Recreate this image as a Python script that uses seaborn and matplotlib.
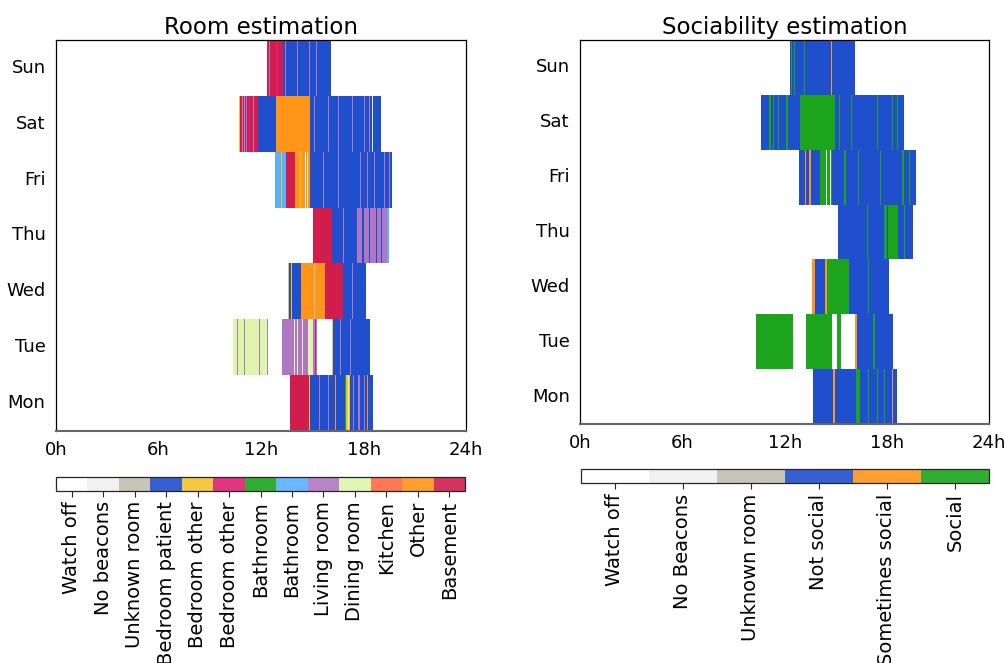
import numpy as np
import matplotlib
matplotlib.use("Agg")
import matplotlib.pyplot as plt
from matplotlib.colors import ListedColormap, Normalize
from matplotlib.cm import ScalarMappable
import seaborn as sns

days = ["Sun", "Sat", "Fri", "Thu", "Wed", "Tue", "Mon"]
hour_ticks = [0, 6, 12, 18, 24]
hour_labels = ["0h", "6h", "12h", "18h", "24h"]

room_labels = ["Watch off", "No beacons", "Unknown room", "Bedroom patient",
               "Bedroom other", "Bedroom other", "Bathroom", "Bathroom",
               "Living room", "Dining room", "Kitchen", "Other", "Basement"]
room_colors = ["#ffffff", "#f0f0f0", "#c2beb0", "#1f4fcc", "#f4c22d", "#dd1f71",
               "#1ca41d", "#5ab0ff", "#af77c2", "#ddf6ac", "#ff6842", "#ff9519",
               "#d11d4e"]

social_labels = ["Watch off", "No Beacons", "Unknown room", "Not social",
                 "Sometimes social", "Social"]
social_colors = ["#ffffff", "#f0f0f0", "#c2beb0", "#1f4fcc", "#ff9519", "#1ca41d"]

# runs per day: (start hour, end hour, category) ; later runs overwrite earlier ones
room_runs = {
    "Sun": [(12.33, 13.30, 12), (13.30, 16.08, 3), (12.45, 12.52, 8), (12.90, 12.97, 5),
            (13.40, 13.47, 8), (14.10, 14.15, 8), (14.80, 14.87, 8), (15.20, 15.27, 8)],
    "Sat": [(10.71, 11.85, 12), (11.85, 12.88, 3), (12.88, 14.87, 11), (14.87, 19.00, 3),
            (10.71, 10.76, 4), (10.90, 10.97, 8), (11.00, 11.06, 7), (11.12, 11.19, 8),
            (11.30, 11.37, 5), (11.50, 11.57, 8), (15.10, 15.17, 8), (15.90, 15.97, 8),
            (16.50, 16.57, 8), (17.30, 17.37, 8), (18.00, 18.07, 8), (18.30, 18.37, 8),
            (18.50, 18.57, 9)],
    "Fri": [(12.82, 13.47, 7), (13.47, 14.00, 12), (14.00, 14.87, 11), (14.87, 19.65, 3),
            (13.15, 13.21, 4), (14.30, 14.36, 4), (14.55, 14.63, 0), (14.70, 14.77, 9),
            (15.60, 15.67, 8), (16.50, 16.57, 8), (17.80, 17.87, 8), (18.20, 18.27, 8),
            (18.60, 18.67, 8), (19.20, 19.27, 8), (19.50, 19.57, 8)],
    "Thu": [(15.07, 16.14, 12), (16.14, 17.60, 3), (17.60, 19.36, 8), (19.36, 19.50, 7),
            (16.80, 16.86, 8), (17.90, 18.00, 3), (18.30, 18.40, 3), (18.70, 18.80, 3),
            (19.00, 19.10, 3)],
    "Wed": [(13.56, 13.80, 4), (13.80, 14.34, 3), (14.34, 15.75, 11), (15.75, 16.78, 12),
            (16.78, 18.13, 3), (13.62, 13.67, 3), (13.72, 13.77, 3), (15.10, 15.15, 2),
            (17.30, 17.36, 8)],
    "Tue": [(10.34, 12.43, 9), (13.21, 14.77, 8), (14.77, 15.03, 9), (15.03, 15.30, 8),
            (15.30, 16.14, 0), (16.14, 16.20, 4), (16.20, 18.38, 3),
            (10.60, 10.67, 8), (11.00, 11.07, 8), (11.90, 11.97, 8), (12.35, 12.43, 8),
            (13.90, 13.96, 9), (14.10, 14.16, 9), (14.40, 14.46, 9), (15.15, 15.21, 5),
            (16.60, 16.67, 8), (17.20, 17.27, 8)],
    "Mon": [(13.66, 14.87, 12), (14.87, 16.92, 3), (16.92, 17.00, 6), (17.00, 17.20, 4),
            (17.20, 18.54, 3), (14.80, 14.86, 4), (15.40, 15.47, 8), (15.90, 15.97, 8),
            (16.30, 16.36, 11), (17.10, 17.16, 9), (17.40, 17.47, 8), (17.70, 17.77, 8),
            (18.00, 18.07, 8), (18.20, 18.26, 11)],
}

social_runs = {
    "Sun": [(12.31, 16.13, 3), (12.35, 12.42, 5), (12.55, 12.62, 5), (13.10, 13.17, 5),
            (14.70, 14.76, 4)],
    "Sat": [(10.64, 12.89, 3), (12.89, 14.94, 5), (14.94, 19.01, 3),
            (11.10, 11.17, 5), (11.30, 11.37, 5), (11.60, 11.67, 5), (12.10, 12.17, 5),
            (15.20, 15.27, 5), (15.90, 15.97, 5), (17.40, 17.47, 5), (18.30, 18.37, 5),
            (18.60, 18.67, 5)],
    "Fri": [(12.85, 14.07, 3), (14.07, 14.75, 5), (14.75, 19.68, 3),
            (13.20, 13.26, 4), (13.45, 13.51, 4), (14.40, 14.46, 0), (14.65, 14.71, 0),
            (15.50, 15.57, 5), (16.30, 16.37, 5), (17.60, 17.67, 5), (18.90, 18.97, 5),
            (19.30, 19.37, 5)],
    "Thu": [(15.10, 17.80, 3), (17.80, 18.65, 5), (18.65, 19.50, 3),
            (16.80, 16.87, 5), (18.00, 18.08, 3), (19.00, 19.07, 5)],
    "Wed": [(13.58, 13.75, 4), (13.75, 14.36, 3), (14.36, 14.46, 4), (14.46, 15.79, 5),
            (15.79, 18.13, 3), (16.90, 16.97, 5)],
    "Tue": [(10.31, 12.46, 5), (13.25, 14.75, 5), (14.75, 15.05, 0), (15.05, 15.30, 5),
            (15.30, 16.12, 0), (16.12, 16.22, 4), (16.22, 18.37, 3), (17.20, 17.27, 5)],
    "Mon": [(13.67, 14.81, 3), (14.81, 14.95, 4), (14.95, 16.20, 3), (16.20, 16.40, 5),
            (16.40, 18.57, 3), (16.90, 16.97, 5), (17.40, 17.47, 5), (17.80, 17.87, 5),
            (18.30, 18.36, 4)],
}


def build_grid(runs):
    # one column per minute of the day, NaN = no data
    grid = np.full((len(days), 24 * 60), np.nan)
    for i, d in enumerate(days):
        for start, end, cat in runs[d]:
            grid[i, int(round(start * 60)):int(round(end * 60))] = cat
    return grid


def draw_panel(fig, ax_rect, cbar_rect, runs, colors, labels, title):
    ax = fig.add_axes(ax_rect)
    cmap = ListedColormap(colors)
    n = len(colors)
    sns.heatmap(build_grid(runs), ax=ax, cmap=cmap, vmin=-0.5, vmax=n - 0.5,
                cbar=False, xticklabels=False, yticklabels=days)
    for sp in ax.spines.values():
        sp.set_visible(True)
        sp.set_color("black")
        sp.set_linewidth(0.9)
    ax.spines["bottom"].set_color("#666666")
    ax.spines["bottom"].set_linewidth(1.5)
    ax.set_xticks([h * 60 for h in hour_ticks])
    ax.set_xticklabels(hour_labels, rotation=0, fontsize=13)
    ax.set_yticklabels(days, rotation=0, fontsize=13)
    ax.tick_params(axis="both", length=4, width=0.8, color="#333333", labelcolor="black")
    ax.set_title(title, fontsize=16.5, pad=4, color="black")

    cax = fig.add_axes(cbar_rect)
    sm = ScalarMappable(norm=Normalize(-0.5, n - 0.5), cmap=cmap)
    cb = fig.colorbar(sm, cax=cax, orientation="horizontal", ticks=range(n), alpha=0.9)
    cb.outline.set_linewidth(0.9)
    cax.set_xticklabels(labels, rotation=90, fontsize=14)
    cax.tick_params(length=4, width=0.8, labelcolor="black")
    return ax


sns.set_theme(style="white")
plt.rcParams["font.family"] = ["DejaVu Sans"]
plt.rcParams["text.color"] = "black"

fig = plt.figure(figsize=(10.06, 6.63), dpi=100)
draw_panel(fig, [0.0557, 0.350, 0.4076, 0.5897], [0.0557, 0.260, 0.4066, 0.0207],
           room_runs, room_colors, room_labels, "Room estimation")
draw_panel(fig, [0.5768, 0.3605, 0.4066, 0.5792], [0.5772, 0.2715, 0.4059, 0.0211],
           social_runs, social_colors, social_labels, "Sociability estimation")

fig.savefig("out.png", dpi=100)
